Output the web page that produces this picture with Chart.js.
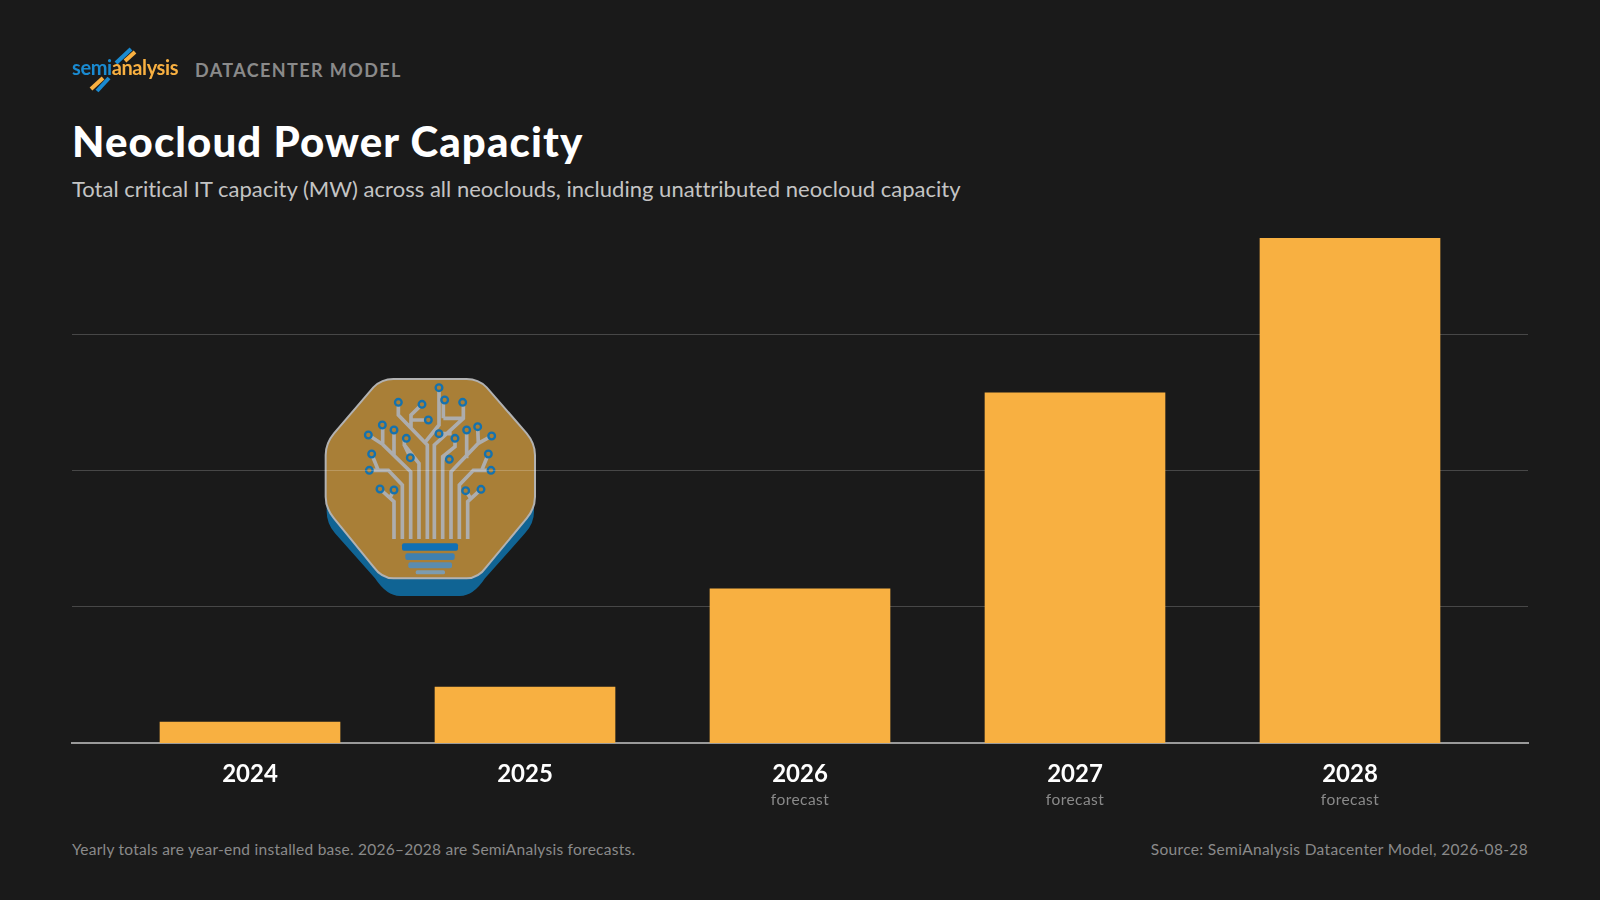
<!DOCTYPE html>
<html>
<head>
<meta charset="utf-8">
<title>Neocloud Power Capacity</title>
<script src="https://cdn.jsdelivr.net/npm/chart.js@4"></script>
<style>
  html, body { margin: 0; padding: 0; background: #1a1a1a; }
  body { width: 1600px; height: 900px; position: relative; overflow: hidden; font-family: Lato, sans-serif; }
  .txt { position: absolute; white-space: nowrap; line-height: 1; }
  #kicker { left: 195px; top: 61px; font-size: 18px; font-weight: 700; color: #8a8a8a; letter-spacing: 1.4px; }
  #title { left: 72px; top: 120px; font-size: 42px; font-weight: 900; color: #fff; letter-spacing: 1.1px; }
  #subtitle { left: 72px; top: 178px; font-size: 22px; color: #c4c4c4; letter-spacing: .02px; }
  #noteLeft { left: 72px; top: 842px; font-size: 15.5px; color: #8a8a8a; letter-spacing: .26px; }
  #noteRight { right: 72px; top: 842px; font-size: 15.5px; color: #8a8a8a; letter-spacing: .34px; }
  #chart { position: absolute; left: 0; top: 0; z-index: 2; }
  #badge { position: absolute; left: 310px; top: 365px; z-index: 1; }
  #logo { position: absolute; left: 60px; top: 40px; z-index: 3; }
</style>
</head>
<body>
<svg id="logo" width="130" height="60" viewBox="60 40 130 60">
  <g stroke-width="4" stroke-linecap="butt">
    <line x1="116" y1="63" x2="131" y2="49" stroke="#1a8ad0"/>
    <line x1="125" y1="61" x2="135" y2="52" stroke="#f8b041"/>
    <line x1="91" y1="89" x2="103" y2="78" stroke="#f8b041"/>
    <line x1="97" y1="91" x2="109" y2="78" stroke="#1a8ad0"/>
  </g>
  <text x="72" y="75" font-family="Lato" font-weight="700" font-size="20" letter-spacing="-.4"><tspan fill="#1a8ad0">semi</tspan><tspan fill="#f8b041">analysis</tspan></text>
</svg>
<div class="txt" id="kicker">DATACENTER MODEL</div>
<div class="txt" id="title">Neocloud Power Capacity</div>
<div class="txt" id="subtitle">Total critical IT capacity (MW) across all neoclouds, including unattributed neocloud capacity</div>

<svg id="badge" width="240" height="240" viewBox="0 0 720 720">
  <path d="M245 95 H475 Q510 95 535 120 L645 232 Q672 260 672 300 V440 Q672 475 645 505 L525 640 Q490 693 450 693 H270 Q230 693 195 640 L75 505 Q50 475 50 440 V300 Q50 260 75 232 L185 120 Q210 95 245 95 Z" fill="#106494"/>
  <path d="M250 42 H470 Q505 42 530 67 L650 205 Q675 235 675 270 V395 Q675 430 650 460 L530 605 Q505 640 470 640 H250 Q215 640 190 605 L72 460 Q47 430 47 395 V270 Q47 235 72 205 L190 67 Q215 42 250 42 Z" fill="#a97f37" stroke="#b2b2b2" stroke-width="6"/>
  <g fill="none" stroke="#adadad" stroke-width="11">
    <path d="M252 522 V410 L210 372 M240 398 L252 375"/>
    <path d="M277 522 V360 L235 316 H178 M205 316 L185 267"/>
    <path d="M302 522 V320 L218 238 L175 210 M218 238 V180 M252 270 V195"/>
    <path d="M327 522 V295 L283 240 V218 M283 240 L300 275"/>
    <path d="M352 522 V240 L265 150 V112 M303 190 V150 L336 118 M303 165 H355"/>
    <path d="M345 232 L387 180 V68"/>
    <path d="M373 522 V240 L460 160 V112 M400 160 V105 M400 160 H460 M387 206 H425"/>
    <path d="M398 522 V275 L435 245 V220 M398 278 L418 283"/>
    <path d="M423 522 V320 L505 235 L545 213 M470 280 V195 M505 235 L503 185"/>
    <path d="M448 522 V360 L490 316 H543 M515 316 L535 267"/>
    <path d="M473 522 V410 L513 373 M482 400 L467 377"/>
  </g>
  <g fill="#a97f37" stroke="#1572ae" stroke-width="7">
    <circle cx="210" cy="372" r="10"/><circle cx="252" cy="375" r="10"/>
    <circle cx="178" cy="316" r="10"/><circle cx="185" cy="267" r="10"/>
    <circle cx="175" cy="210" r="10"/><circle cx="217" cy="180" r="10"/><circle cx="252" cy="195" r="10"/>
    <circle cx="289" cy="220" r="10"/><circle cx="301" cy="278" r="10"/>
    <circle cx="265" cy="112" r="10"/><circle cx="336" cy="118" r="10"/><circle cx="355" cy="165" r="10"/>
    <circle cx="387" cy="68" r="10"/><circle cx="404" cy="105" r="10"/><circle cx="458" cy="112" r="10"/>
    <circle cx="387" cy="206" r="10"/><circle cx="435" cy="220" r="10"/><circle cx="418" cy="283" r="10"/>
    <circle cx="545" cy="213" r="10"/><circle cx="470" cy="195" r="10"/><circle cx="503" cy="185" r="10"/>
    <circle cx="543" cy="316" r="10"/><circle cx="535" cy="267" r="10"/>
    <circle cx="513" cy="373" r="10"/><circle cx="467" cy="377" r="10"/>
  </g>
  <rect x="276" y="535" width="168" height="22" rx="6" fill="#1170b4"/>
  <rect x="286" y="565" width="148" height="20" rx="6" fill="#3f80b0"/>
  <rect x="295" y="592" width="131" height="18" rx="6" fill="#5b8cae"/>
  <rect x="317" y="616" width="88" height="12" rx="5" fill="#7c9cb0"/>
</svg>

<canvas id="chart" width="1600" height="900"></canvas>

<div class="txt" id="noteLeft">Yearly totals are year-end installed base. 2026–2028 are SemiAnalysis forecasts.</div>
<div class="txt" id="noteRight">Source: SemiAnalysis Datacenter Model, 2026-08-28</div>

<script>
// Values
const years = [2024, 2025, 2026, 2027, 2028];
const capacityMW = [772, 2056, 5665, 12865, 18550];
const subLabels = ["", "", "forecast", "forecast", "forecast"];
const gridTicks = [5000, 10000, 15000];

// Second line under the year, lighter than the tick font
const subLabelPlugin = {
  id: "subLabels",
  afterDraw(chart) {
    const ctx = chart.ctx;
    const x = chart.scales.x;
    ctx.save();
    ctx.font = "15.5px Lato";
    ctx.letterSpacing = "0.45px";
    ctx.fillStyle = "#8a8a8a";
    ctx.textAlign = "center";
    ctx.textBaseline = "middle";
    years.forEach((year, i) => {
      if (subLabels[i]) ctx.fillText(subLabels[i], x.getPixelForValue(year), 800);
    });
    ctx.restore();
  }
};

new Chart(document.getElementById("chart"), {
  type: "bar",
  data: {
    datasets: [{
      data: years.map((year, i) => ({ x: year, y: capacityMW[i] })),
      backgroundColor: "#f8b041",
      barThickness: 180
    }]
  },
  options: {
    responsive: false,
    animation: false,
    layout: { padding: { left: 72, right: 72, top: 238, bottom: 97 } },
    plugins: { legend: { display: false }, tooltip: { enabled: false } },
    scales: {
      x: {
        type: "linear",
        offset: false,
        min: 2023.3527,
        max: 2028.6473,
        z: 1,
        afterFit: scale => { scale.height = 60; },
        afterBuildTicks: scale => { scale.ticks = years.map(value => ({ value })); },
        grid: { display: false },
        border: { color: "#9a9a9a", width: 2 },
        ticks: {
          padding: 9,
          maxRotation: 0,
          autoSkip: false,
          color: "#ffffff",
          font: { family: "Lato", size: 24, weight: "700" },
          callback: value => String(value)
        }
      },
      y: {
        min: 0,
        max: 18550,
        afterFit: scale => { scale.width = 0; },
        afterBuildTicks: scale => { scale.ticks = gridTicks.map(value => ({ value })); },
        border: { display: false },
        grid: { color: "rgba(255,255,255,.2)", lineWidth: 1, drawTicks: false },
        ticks: { display: false }
      }
    }
  },
  plugins: [subLabelPlugin]
});
</script>
</body>
</html>
